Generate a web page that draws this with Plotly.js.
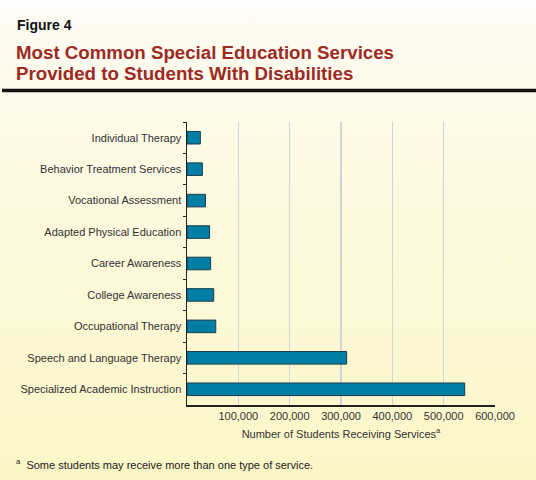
<!DOCTYPE html>
<html>
<head>
<meta charset="utf-8">
<script src="https://cdn.plot.ly/plotly-3.0.1.min.js"></script>
<style>
  html, body { margin: 0; padding: 0; }
  #chart {
    width: 536px;
    height: 480px;
    background: linear-gradient(to bottom, #ffffff 0px, #ffffff 7px, #fefcf3 8px, #fdf9e0 200px, #fcf6c6 100%);
  }
</style>
</head>
<body>
<div id="chart"></div>
<script>
  // services, top to bottom as in the figure
  var services = [
    "Individual Therapy",
    "Behavior Treatment Services",
    "Vocational Assessment",
    "Adapted Physical Education",
    "Career Awareness",
    "College Awareness",
    "Occupational Therapy",
    "Speech and Language Therapy",
    "Specialized Academic Instruction"
  ];
  var students = [26000, 30000, 36000, 44000, 46000, 52000, 56000, 311000, 541000];

  var tickVals = [100000, 200000, 300000, 400000, 500000, 600000];
  var tickText = ["100,000", "200,000", "300,000", "400,000", "500,000", "600,000"];

  var font = "Liberation Sans, Arial, Helvetica, sans-serif";

  // plot area in pixels: left 187, right 495, top 122, bottom 405
  var L = 187, R = 41, T = 122, B = 75;
  var pw = 536 - L - R, ph = 480 - T - B;
  function px(x) { return (x - L) / pw; }
  function py(y) { return (480 - B - y) / ph; }

  var trace = {
    type: "bar",
    orientation: "h",
    x: students,
    y: services,
    width: 0.4,
    marker: {
      color: "#007ea3",
      line: { color: "#1d3c4c", width: 1 }
    },
    hoverinfo: "x+y"
  };

  var layout = {
    width: 536,
    height: 480,
    paper_bgcolor: "rgba(0,0,0,0)",
    plot_bgcolor: "rgba(0,0,0,0)",
    margin: { l: L, r: R, t: T, b: B, pad: 0 },
    showlegend: false,
    font: { family: font, color: "#333333", size: 11 },
    xaxis: {
      range: [0, 600000],
      tickvals: tickVals,
      ticktext: tickText,
      showgrid: true,
      gridcolor: "#d4d4d4",
      gridwidth: 1.5,
      zeroline: false,
      showline: true,
      linecolor: "#222222",
      linewidth: 1.5,
      ticks: "",
      tickfont: { size: 11, color: "#333333" },
      title: {
        text: "Number of Students Receiving Services<sup>a</sup>",
        font: { size: 11, color: "#333333" },
        standoff: 9
      },
      fixedrange: true
    },
    yaxis: {
      type: "category",
      autorange: "reversed",
      showgrid: false,
      showline: true,
      linecolor: "#222222",
      linewidth: 1.5,
      ticks: "outside",
      tickson: "boundaries",
      ticklen: 3,
      tickcolor: "#222222",
      ticklabelstandoff: 2,
      tickfont: { size: 11, color: "#333333" },
      fixedrange: true
    },
    shapes: [
      {
        type: "line",
        xref: "paper", yref: "paper",
        x0: px(2), x1: px(536), y0: py(90.5), y1: py(90.5),
        line: { color: "#111111", width: 3.5 }
      }
    ],
    annotations: [
      {
        text: "<b>Figure 4</b>",
        xref: "paper", yref: "paper",
        x: px(15), y: py(25),
        xanchor: "left", yanchor: "middle",
        showarrow: false,
        font: { family: font, size: 14, color: "#111111" }
      },
      {
        text: "<b>Most Common Special Education Services</b>",
        xref: "paper", yref: "paper",
        x: px(14), y: py(52),
        xanchor: "left", yanchor: "middle",
        showarrow: false,
        font: { family: font, size: 18.7, color: "#9d2a24" }
      },
      {
        text: "<b>Provided to Students With Disabilities</b>",
        xref: "paper", yref: "paper",
        x: px(14), y: py(74),
        xanchor: "left", yanchor: "middle",
        showarrow: false,
        font: { family: font, size: 18.7, color: "#9d2a24" }
      },
      {
        text: "<sup>a</sup>  Some students may receive more than one type of service.",
        xref: "paper", yref: "paper",
        x: px(14), y: py(464),
        xanchor: "left", yanchor: "middle",
        showarrow: false,
        font: { family: font, size: 11, color: "#222222" }
      }
    ]
  };

  Plotly.newPlot("chart", [trace], layout, { displayModeBar: false, staticPlot: true });
</script>
</body>
</html>
